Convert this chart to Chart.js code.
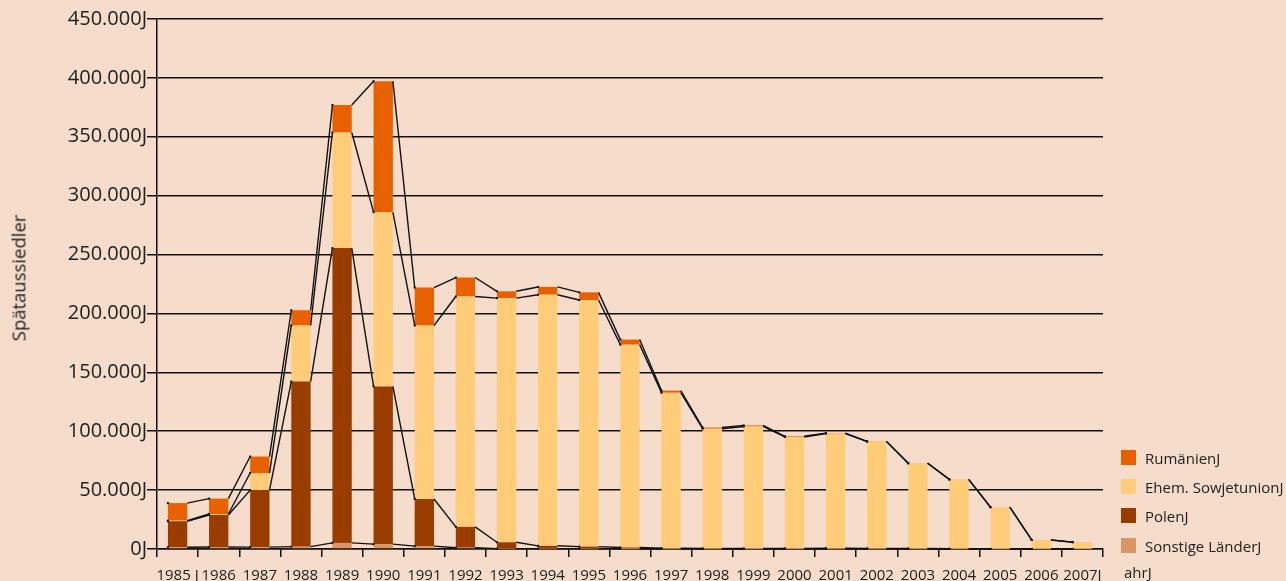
<!DOCTYPE html>
<html>
<head>
<meta charset="utf-8">
<script src="https://cdn.jsdelivr.net/npm/chart.js@4"></script>
<style>
  html, body { margin:0; padding:0; background:#F5DCCB; }
  #wrap { position:relative; width:1286px; height:581px; background:#F5DCCB; font-family:"Open Sans", sans-serif; color:#222; }
  canvas { position:absolute; left:0; top:0; }
  .ytitle { position:absolute; left:18px; top:278px; transform:translate(-50%,-50%) rotate(-90deg); font-size:18.5px; white-space:nowrap; color:#222; }
  .xtitle { position:absolute; left:1124px; top:562px; font-size:15px; color:#222; }
  .leg { position:absolute; left:1121px; font-size:15px; white-space:nowrap; color:#222; }
  .leg span.box { display:inline-block; width:15px; height:15px; vertical-align:middle; margin-right:9px; }
  .leg span.t { vertical-align:middle; }
</style>
</head>
<body>
<div id="wrap">
  <canvas id="c" width="1286" height="581"></canvas>
  <div class="ytitle">Spätaussiedler</div>
  <div class="xtitle">ahrJ</div>
  <div id="legend"></div>
</div>
<script>
const years = ['1985 J','1986','1987','1988','1989','1990','1991','1992','1993','1994','1995','1996','1997','1998','1999','2000','2001','2002','2003','2004','2005','2006','2007J'];
const sonstige  = [1500,1700,1600,2000,5200,4100,2400,1100,300,300,300,100,60,40,30,30,50,20,15,10,7,1,2];
const polen     = [22100,27200,48400,140200,250300,133900,40100,17700,5400,2400,1700,1200,700,500,400,500,600,550,450,280,80,80,70];
const sowjet    = [500,800,14500,47600,98100,148000,147300,195600,207300,213200,209400,172200,131900,101600,103600,94600,97400,90600,72300,58700,35400,7600,5700];
const rumaenien = [14900,13100,14000,12900,23400,111200,32200,16100,5800,6600,6500,4300,1800,1000,900,550,380,260,140,80,40,40,25];
const yTickLabels = ['0J','50.000J','100.000J','150.000J','200.000J','250.000J','300.000J','350.000J','400.000J','450.000J'];
const seriesNames = ['Sonstige LänderJ','PolenJ','Ehem. SowjetunionJ','RumänienJ'];
const seriesColors = ['#D99563','#993C00','#FFCC7A','#E86100'];

const seriesValues = [sonstige, polen, sowjet, rumaenien];

const seriesLines = {
  id:'seriesLines',
  afterDatasetsDraw(chart){
    const ctx = chart.ctx;
    ctx.save();
    ctx.strokeStyle = '#111';
    ctx.fillStyle = '#111';
    ctx.lineWidth = 1.4;
    chart.data.datasets.forEach((ds, di) => {
      const els = chart.getDatasetMeta(di).data;
      ctx.beginPath();
      for (let i = 0; i < els.length - 1; i++) {
        const a = els[i], b = els[i+1];
        ctx.moveTo(a.x + a.width/2, a.y);
        ctx.lineTo(b.x - b.width/2, b.y);
      }
      ctx.stroke();
      els.forEach(e => ctx.fillRect(e.x - e.width/2 - 1, e.y - 1, 2, 2));
    });
    ctx.restore();
  }
};

const chart = new Chart(document.getElementById('c'), {
  type:'bar',
  data:{
    labels: years,
    datasets: seriesValues.map((vals, i) => ({
      label: seriesNames[i],
      data: vals,
      backgroundColor: seriesColors[i],
      borderWidth: 0,
      categoryPercentage: 0.47,
      barPercentage: 1
    }))
  },
  options:{
    responsive:false,
    animation:false,
    layout:{ padding:{ top:19, right:183, left:0, bottom:0 } },
    plugins:{ legend:{display:false}, tooltip:{enabled:false} },
    scales:{
      x:{
        stacked:true,
        offset:true,
        grid:{ display:true, drawOnChartArea:false, drawTicks:true, tickLength:8, color:'#111', lineWidth:1.5 },
        border:{ display:true, color:'#111', width:1.5 },
        ticks:{ color:'#222', font:{ family:'"Open Sans", sans-serif', size:15 }, padding:10, maxRotation:0, autoSkip:false },
        afterFit(s){ s.height = 32; }
      },
      y:{
        stacked:true,
        min:0, max:450000,
        ticks:{ stepSize:50000, color:'#222', padding:0,
          font:{ family:'"Open Sans", sans-serif', size:20 },
          callback:(v, idx) => yTickLabels[idx] },
        grid:{ color:'#111', lineWidth:1.5, tickLength:10, drawTicks:true },
        border:{ display:true, color:'#111', width:1.5 },
        afterFit(s){ s.width = 157; }
      }
    }
  },
  plugins:[seriesLines]
});

const legend = document.getElementById('legend');
const legTops = [449, 478, 507, 537];
[3,2,1,0].forEach((si, k) => {
  const d = document.createElement('div');
  d.className = 'leg';
  d.style.top = (legTops[k] - 3) + 'px';
  d.innerHTML = '<span class="box" style="background:' + seriesColors[si] + '"></span><span class="t">' + seriesNames[si] + '</span>';
  legend.appendChild(d);
});
</script>
</body>
</html>
